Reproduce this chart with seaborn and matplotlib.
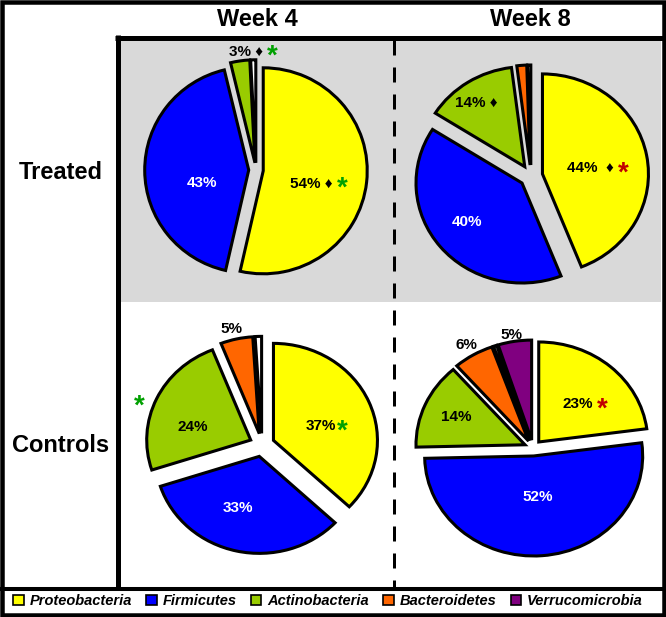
"""
Exploded pie charts of gut phyla, treated vs controls at week 4 and week 8.
"""

import matplotlib.pyplot as plt
import seaborn as sns
from matplotlib.lines import Line2D
from matplotlib.patches import Patch, Rectangle

# ---- data -----------------------------------------------------------------
row_names = ["Treated", "Controls"]
col_names = ["Week 4", "Week 8"]

# slice order (clockwise from 12 o'clock)
phyla = ["Proteobacteria", "Firmicutes", "Actinobacteria", "Bacteroidetes",
         "Other", "Verrucomicrobia"]
legend_phyla = ["Proteobacteria", "Firmicutes", "Actinobacteria",
                "Bacteroidetes", "Verrucomicrobia"]

treated_wk4 = [54, 43, 3, 0, 0.8, 0]
treated_wk8 = [44, 40, 14, 1.5, 0.5, 0]
control_wk4 = [37, 33, 24, 5, 1, 0]
control_wk8 = [23, 52, 14, 6, 0.5, 5]

treated_wk4_text = ["54% \u2666", "43%", "3% \u2666", "", "", ""]
treated_wk8_text = ["44%  \u2666", "40%", "14% \u2666", "", "", ""]
control_wk4_text = ["37%", "33%", "24%", "5%", "", ""]
control_wk8_text = ["23%", "52%", "14%", "6%", "", "5%"]

# significance asterisks after a label
treated_wk4_star = ["green", None, "green", None, None, None]
treated_wk8_star = ["red", None, None, None, None, None]
control_wk4_star = ["green", None, None, None, None, None]
control_wk8_star = ["red", None, None, None, None, None]

# ---- styling / layout -----------------------------------------------------
sns.set_theme(style="white")
plt.rcParams["font.family"] = ["Liberation Sans", "DejaVu Sans"]
plt.rcParams["text.color"] = "black"

palette = sns.color_palette(
    ["#FFFF00", "#0000FF", "#99CC00", "#FF6600", "#FFFFFF", "#800080"]
)
star_colors = {"green": "#00A000", "red": "#C00000"}
text_colors = ["black", "white", "black", "black", "black", "black"]

W, H = 666, 617
fig = plt.figure(figsize=(W / 100, H / 100), dpi=100)


def fx(x):
    return x / W


def fy(y):
    return 1 - y / H


# pie layout: centre (px), x radius, y radius, explode, label spots
pies = [
    dict(values=treated_wk4, text=treated_wk4_text, star=treated_wk4_star,
         center=(256, 170), rx=104, ry=103, explode=0.07,
         spots=[(0.53, -0.13), (-0.52, -0.13), (-0.10, 1.15)]),
    dict(values=treated_wk8, text=treated_wk8_text, star=treated_wk8_star,
         center=(531, 176), rx=106, ry=100, explode=0.11,
         spots=[(0.56, 0.08), (-0.60, -0.46), (-0.52, 0.73)]),
    dict(values=control_wk4, text=control_wk4_text, star=control_wk4_star,
         center=(262, 445), rx=104, ry=97, explode=0.12,
         spots=[(0.57, 0.20), (-0.23, -0.65), (-0.67, 0.19), (-0.29, 1.20)]),
    dict(values=control_wk8, text=control_wk8_text, star=control_wk8_star,
         center=(533, 448), rx=109, ry=100, explode=0.08,
         spots=[(0.41, 0.44), (0.04, -0.49), (-0.70, 0.31), (-0.61, 1.03),
                None, (-0.20, 1.13)]),
]

# grey background of the treated row
fig.add_artist(Rectangle((fx(120), fy(302)), fx(661) - fx(120),
                         fy(40) - fy(302), transform=fig.transFigure,
                         facecolor="#D9D9D9", edgecolor="none", zorder=-1))

L = 1.4
for p in pies:
    cx, cy = p["center"]
    ax = fig.add_axes([fx(cx - L * p["rx"]), fy(cy + L * p["ry"]),
                       2 * L * p["rx"] / W, 2 * L * p["ry"] / H])
    keep = [i for i, v in enumerate(p["values"]) if v > 0]
    ax.pie(
        [p["values"][i] for i in keep],
        colors=[palette[i] for i in keep],
        explode=[p["explode"]] * len(keep),
        startangle=90,
        counterclock=False,
        wedgeprops=dict(edgecolor="black", linewidth=2.2, joinstyle="miter"),
    )
    ax.set_aspect("auto")
    ax.set_xlim(-L, L)
    ax.set_ylim(-L, L)
    ax.axis("off")

    for i, spot in enumerate(p["spots"]):
        if spot is None or not p["text"][i]:
            continue
        t = ax.text(spot[0], spot[1], p["text"][i], ha="center", va="center",
                    fontsize=11, fontweight="bold", color=text_colors[i])
        if p["star"][i]:
            gap = 0 if p["text"][i] == "37%" else 3
            ax.annotate("*", xy=(1, 0.5), xycoords=t,
                        xytext=(gap, -4), textcoords="offset points",
                        ha="left", va="center", fontsize=20,
                        fontweight="bold", color=star_colors[p["star"][i]])

    if p["values"] is control_wk4:
        # star for Actinobacteria, placed outside the slice
        ax.text(-1.18, 0.40, "*", ha="center", va="center", fontsize=20,
                fontweight="bold", color=star_colors["green"])

# row and column headings
for name, y in zip(row_names, [172, 445]):
    fig.text(fx(61), fy(y), name, ha="center", va="center",
             fontsize=17, fontweight="bold")
for name, x in zip(col_names, [257, 530]):
    fig.text(fx(x), fy(20), name, ha="center", va="center",
             fontsize=17, fontweight="bold")

# frame lines
line_kw = dict(color="black", transform=fig.transFigure, zorder=3,
               solid_capstyle="butt")
fig.add_artist(Rectangle((fx(2.25), fy(614.75)), fx(661.5), fy(2.25) - fy(614.75),
                         transform=fig.transFigure, fill=False,
                         edgecolor="black", linewidth=3.24, zorder=3))
fig.add_artist(Line2D([fx(117.5)] * 2, [fy(35), fy(589)], linewidth=3.6,
                      **line_kw))
fig.add_artist(Line2D([fx(115), fx(666)], [fy(37.5)] * 2, linewidth=3.6,
                      **line_kw))
fig.add_artist(Line2D([0, 1], [fy(589)] * 2, linewidth=2.9, **line_kw))
fig.add_artist(Line2D([fx(393.5)] * 2, [fy(40), fy(587)], color="black",
                      linewidth=2.16, linestyle=(0, (5, 4)),
                      dash_capstyle="butt", transform=fig.transFigure,
                      zorder=3))

# legend
handles = [Patch(facecolor=palette[phyla.index(n)], edgecolor="black",
                 linewidth=1.2) for n in legend_phyla]
fig.legend(handles, legend_phyla, loc="center", ncol=5,
           bbox_to_anchor=(fx(328), fy(601)), frameon=False,
           handlelength=0.7, handleheight=0.7, handletextpad=0.4,
           columnspacing=1.0, borderpad=0, labelcolor="black",
           prop=dict(weight="bold", style="italic", size=10.5))

fig.savefig("out.png", dpi=100)
